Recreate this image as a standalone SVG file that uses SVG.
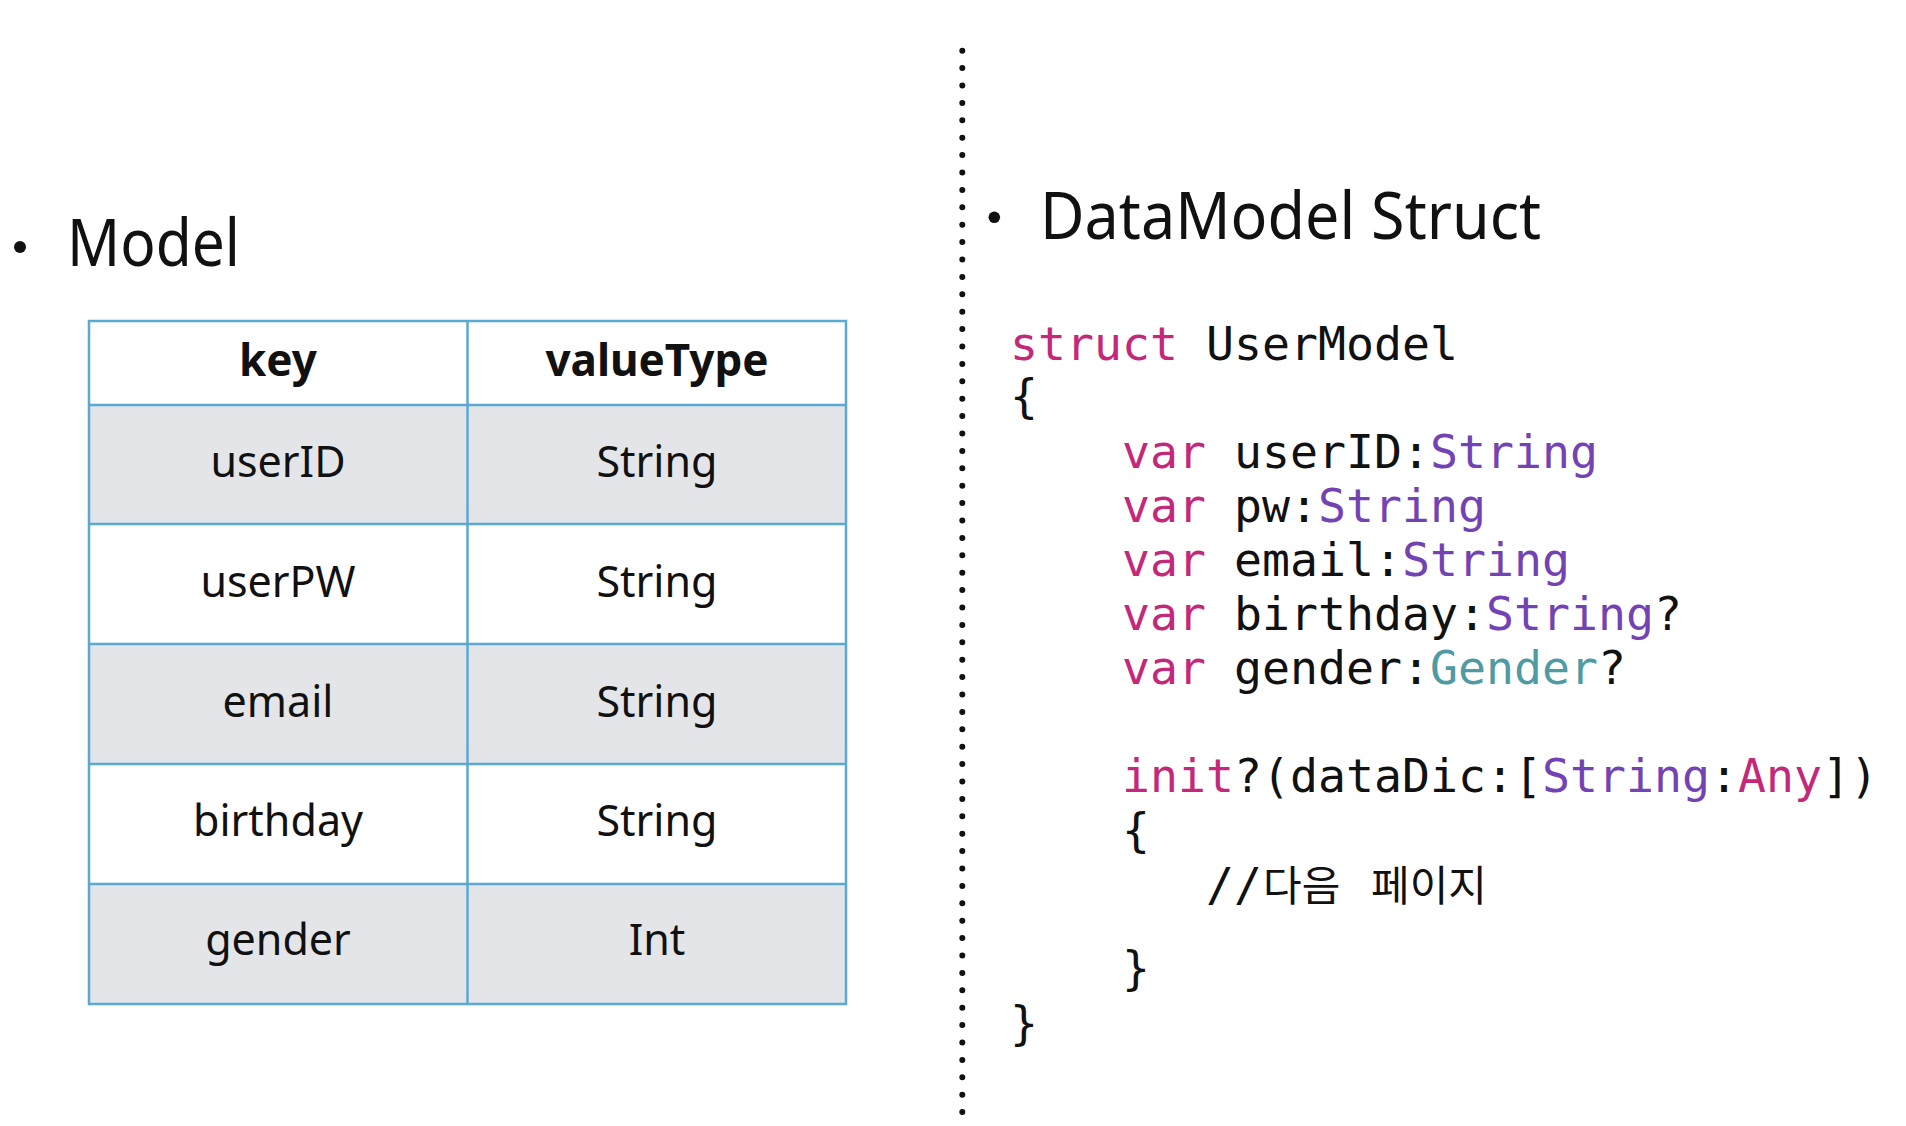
<svg xmlns="http://www.w3.org/2000/svg" width="1906" height="1126" viewBox="0 0 1906 1126">
<style>
.head{font-family:"Noto Sans","Liberation Sans",sans-serif;font-size:66px;fill:#111}
.cell{font-family:"Noto Sans","Liberation Sans",sans-serif;font-size:43px;fill:#111;text-anchor:middle}
.hcell{font-family:"Noto Sans","Liberation Sans",sans-serif;font-size:44px;font-weight:bold;fill:#111;text-anchor:middle}
.code{font-family:"DejaVu Sans Mono","Liberation Mono",monospace;font-size:46.5px;fill:#111}
.kw{fill:#C3287A}
.ty{fill:#7443B3}
.tl{fill:#4E9BA3}
.ko{font-family:"Noto Sans CJK KR","Noto Sans",sans-serif;font-size:42px}
.grid{stroke:#5AA9D5;stroke-width:2.5;fill:none}
.alt{fill:#E4E5E9}
</style>
<rect width="1906" height="1126" fill="#fff"/>

<g id="model-heading">
<circle cx="20" cy="247" r="6" fill="#111"/>
<text class="head" x="67" y="266" textLength="173" lengthAdjust="spacingAndGlyphs">Model</text>
</g>

<g id="model-table">
<rect class="alt" x="89" y="405" width="757" height="119"/>
<rect class="alt" x="89" y="644" width="757" height="120"/>
<rect class="alt" x="89" y="884" width="757" height="120"/>
<rect class="grid" x="89" y="321" width="757" height="683"/>
<line class="grid" x1="89" y1="405" x2="846" y2="405"/>
<line class="grid" x1="89" y1="524" x2="846" y2="524"/>
<line class="grid" x1="89" y1="644" x2="846" y2="644"/>
<line class="grid" x1="89" y1="764" x2="846" y2="764"/>
<line class="grid" x1="89" y1="884" x2="846" y2="884"/>
<line class="grid" x1="467.5" y1="321" x2="467.5" y2="1004"/>
<text class="hcell" x="278" y="376">key</text>
<text class="hcell" x="657" y="376">valueType</text>
<text class="cell" x="278" y="477">userID</text>
<text class="cell" x="657" y="477">String</text>
<text class="cell" x="278" y="597">userPW</text>
<text class="cell" x="657" y="597">String</text>
<text class="cell" x="278" y="717">email</text>
<text class="cell" x="657" y="717">String</text>
<text class="cell" x="278" y="836">birthday</text>
<text class="cell" x="657" y="836">String</text>
<text class="cell" x="278" y="955">gender</text>
<text class="cell" x="657" y="955">Int</text>
</g>

<g id="divider">
<line x1="962.3" y1="50.7" x2="962.3" y2="1113" stroke="#111" stroke-width="6" stroke-linecap="round" stroke-dasharray="0 17.4"/>
</g>

<g id="struct-heading">
<circle cx="994.3" cy="217.3" r="5.8" fill="#111"/>
<text class="head" x="1040" y="239" textLength="501" lengthAdjust="spacingAndGlyphs">DataModel Struct</text>
</g>

<g id="code">
<text class="code" x="1010" y="360"><tspan class="kw">struct</tspan> UserModel</text>
<text class="code" x="1010" y="412">{</text>
<text class="code" x="1122" y="468"><tspan class="kw">var</tspan> userID:<tspan class="ty">String</tspan></text>
<text class="code" x="1122" y="522"><tspan class="kw">var</tspan> pw:<tspan class="ty">String</tspan></text>
<text class="code" x="1122" y="576"><tspan class="kw">var</tspan> email:<tspan class="ty">String</tspan></text>
<text class="code" x="1122" y="630"><tspan class="kw">var</tspan> birthday:<tspan class="ty">String</tspan>?</text>
<text class="code" x="1122" y="684"><tspan class="kw">var</tspan> gender:<tspan class="tl">Gender</tspan>?</text>
<text class="code" x="1122" y="792"><tspan class="kw">init</tspan>?(dataDic:[<tspan class="ty">String</tspan>:<tspan class="kw">Any</tspan>])</text>
<text class="code" x="1122" y="846">{</text>
<text class="code" x="1206" y="901">//<tspan class="ko" x="1263">다음</tspan><tspan class="ko" x="1371">페이지</tspan></text>
<text class="code" x="1122" y="984">}</text>
<text class="code" x="1010" y="1039">}</text>
</g>
</svg>
